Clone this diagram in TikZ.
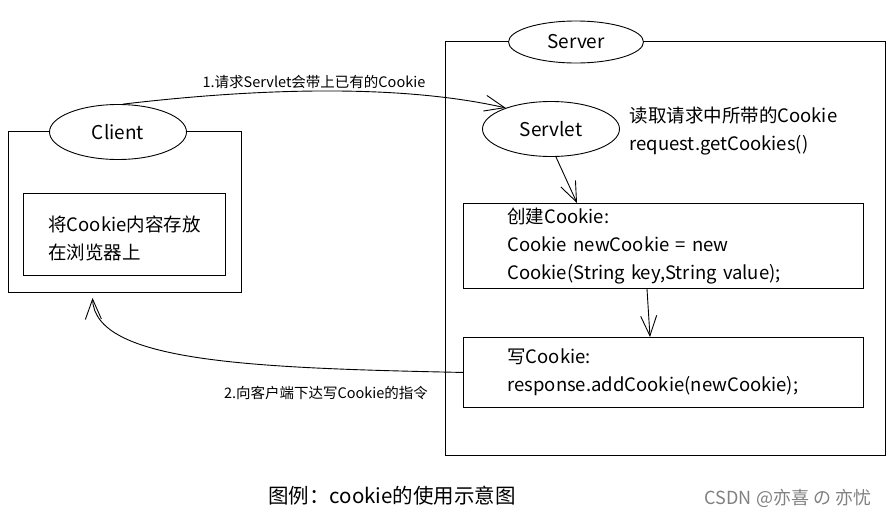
\documentclass[tikz,border=0pt]{standalone}
\usepackage{fontspec}
\newfontfamily\cjk{Noto Sans CJK SC}
\usetikzlibrary{positioning}
\usetikzlibrary{arrows.meta}
\usetikzlibrary{shapes.geometric}
\usetikzlibrary{calc}

\begin{document}
\begin{tikzpicture}[x=1pt,y=-1pt]
    \tikzstyle{outer}=[draw, line width=0.9pt, rectangle, inner sep=0pt]
    \tikzstyle{bubble}=[ellipse, draw, line width=0.9pt, fill=white,
            inner sep=0pt, font=\cjk\fontsize{19}{22}\selectfont]
    \tikzstyle{box}=[draw, line width=0.9pt, rectangle, anchor=north west,
            align=left, font=\cjk\fontsize{18.5}{28}\selectfont]
    \tikzstyle{note}=[align=left, font=\cjk\fontsize{18.5}{28}\selectfont]
    \tikzstyle{msg}=[font=\cjk\fontsize{14.5}{16}\selectfont]
    \tikzstyle{flow}=[line width=0.9pt, -{Straight Barb[length=20pt,width=16pt]}]

    \useasboundingbox (0,0) rectangle (894,520);

    % client side
    \node[outer, minimum width=233, minimum height=161] (clientbox) at (124.5,212) {};
    \node[bubble, minimum width=137, minimum height=55] (client) at (118,132) {Client};
    \node[box, minimum width=202, minimum height=82, inner ysep=4] (store) at (23,193)
        {\rule{0pt}{24pt}将Cookie内容存放\\在浏览器上};

    % server side
    \node[outer, minimum width=440, minimum height=414] (serverbox) at (665,248) {};
    \node[bubble, minimum width=135, minimum height=42] (server) at (576,42) {Server};
    \node[bubble, minimum width=137, minimum height=55] (servlet) at (551,129) {Servlet};
    \node[note, anchor=west] (read) at (626,131)
        {读取请求中所带的Cookie\\request.getCookies()};
    \node[box, text width=312, inner xsep=44, minimum height=85] (create) at (463,203)
        {创建Cookie:\\Cookie newCookie = new\\Cookie(String key,String value);};
    \node[box, text width=312, inner xsep=44, minimum height=70] (write) at (463,337)
        {写Cookie:\\response.addCookie(newCookie);};

    % requests and answers
    \draw[flow] (client.80) .. controls (260,88) and (400,84) .. (servlet.155);
    \draw[flow] (servlet.-80) -- ($(create.north west)+(114,0)$);
    \draw[flow] ($(create.south west)+(184,0)$) -- ($(write.north west)+(187,0)$);
    \draw[flow] (write.west) .. controls (250,368) and (95,362)
        .. ($(clientbox.south west)+(85,5)$);

    \node[msg] (req) at (314,82) {1.请求Servlet会带上已有的Cookie};
    \node[msg] (resp) at (326,393) {2.向客户端下达写Cookie的指令};

    \node[font=\cjk\fontsize{20.5}{22}\selectfont] (caption) at (392,496)
        {图例：cookie的使用示意图};
    \node[font=\cjk\fontsize{18}{20}\selectfont, text=gray] (mark) at (788,498)
        {CSDN @亦喜 の 亦忧};
\end{tikzpicture}
\end{document}
